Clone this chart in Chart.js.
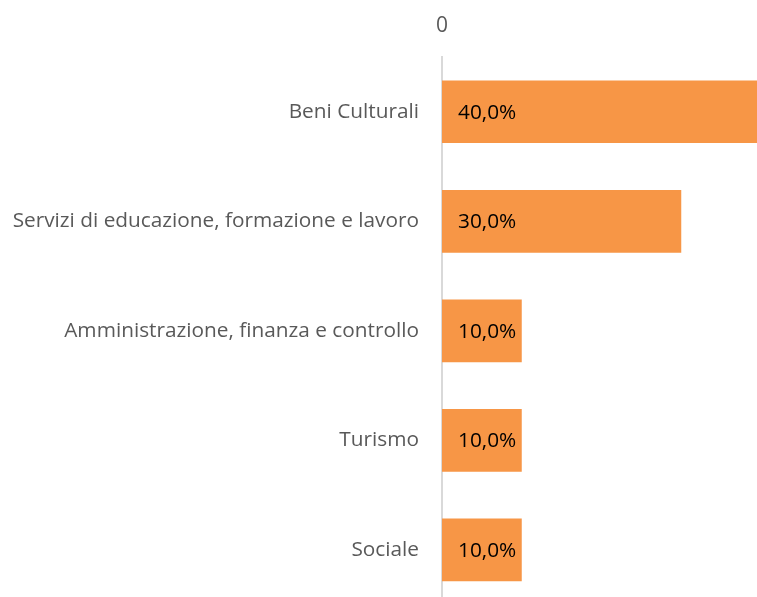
<!DOCTYPE html>
<html>
<head>
<meta charset="utf-8">
<script src="https://cdn.jsdelivr.net/npm/chart.js@4.4.0/dist/chart.umd.min.js"></script>
<style>
  html, body { margin: 0; padding: 0; background: #fff; overflow: hidden; }
  #wrap { position: relative; width: 757px; height: 597px; overflow: hidden; }
</style>
</head>
<body>
<div id="wrap"><canvas id="barChart" width="761" height="640"></canvas></div>
<script>
const categories = ['Beni Culturali', 'Servizi di educazione, formazione e lavoro', 'Amministrazione, finanza e controllo', 'Turismo', 'Sociale'];
const shares = [40, 30, 10, 10, 10];
const xTickValues = [0];

const FONT = '"Open Sans", "DejaVu Sans", sans-serif';

// value labels at the start of each bar
const barLabels = {
    id: 'barLabels',
    afterDatasetsDraw(chart) {
        const ctx = chart.ctx;
        const meta = chart.getDatasetMeta(0);
        ctx.save();
        ctx.font = '20.8px ' + FONT;
        ctx.fillStyle = '#000';
        ctx.textAlign = 'left';
        ctx.textBaseline = 'middle';
        meta.data.forEach(function (bar, i) {
            const txt = shares[i].toFixed(1).replace('.', ',') + '%';
            ctx.fillText(txt, bar.base + 16, bar.y + 1);
        });
        ctx.restore();
    }
};

document.addEventListener("DOMContentLoaded", function () {
    const ctx = document.getElementById('barChart').getContext('2d');

    new Chart(ctx, {
        type: 'bar',
        data: {
            labels: categories,
            datasets: [{
                data: shares,
                backgroundColor: '#F79646',
                borderWidth: 0,
                categoryPercentage: 1,
                barPercentage: 0.573
            }]
        },
        options: {
            indexAxis: 'y',
            responsive: false,
            animation: false,
            layout: { padding: 0 },
            plugins: {
                legend: { display: false },
                tooltip: { enabled: false }
            },
            scales: {
                x: {
                    position: 'top',
                    min: 0,
                    max: 40,
                    afterBuildTicks: function (axis) {
                        axis.ticks = xTickValues.map(v => ({ value: v }));
                    },
                    afterFit: function (axis) { axis.height = 57; },
                    grid: { display: false, drawTicks: false },
                    border: { display: false },
                    ticks: {
                        padding: 18,
                        color: '#595959',
                        font: { family: FONT, size: 21 }
                    }
                },
                y: {
                    afterFit: function (axis) { axis.width = 442; },
                    grid: { display: false, drawTicks: false },
                    border: { display: true, color: '#D9D9D9', width: 2 },
                    ticks: {
                        padding: 23,
                        color: '#595959',
                        font: { family: FONT, size: 20.8 }
                    }
                }
            }
        },
        plugins: [barLabels]
    });
});
</script>
</body>
</html>
